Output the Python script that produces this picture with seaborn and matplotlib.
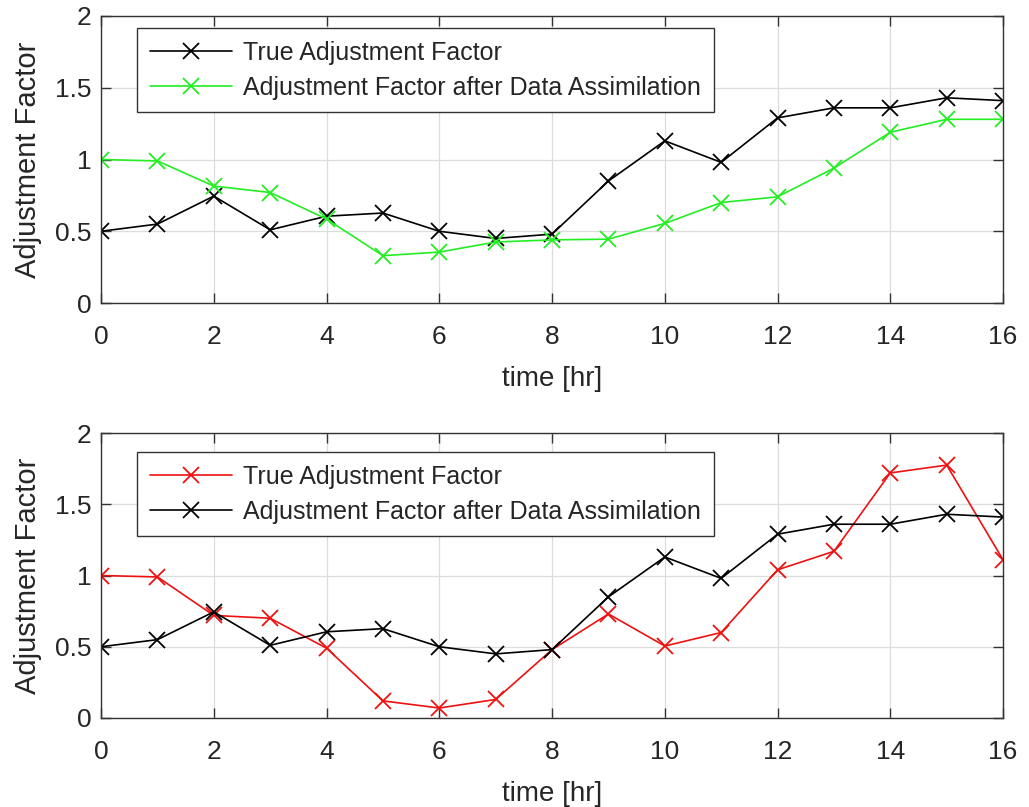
import matplotlib
matplotlib.use("Agg")
import matplotlib.pyplot as plt
import seaborn as sns
import numpy as np

hours = list(range(17))
true_factor = [0.50, 0.55, 0.745, 0.51, 0.605, 0.627, 0.50, 0.45, 0.48, 0.85,
               1.13, 0.98, 1.29, 1.36, 1.36, 1.43, 1.41]
assim_top = [1.00, 0.99, 0.815, 0.77, 0.585, 0.33, 0.355, 0.425, 0.44, 0.445,
             0.555, 0.70, 0.74, 0.94, 1.19, 1.28, 1.28]
true_bottom = [1.00, 0.99, 0.72, 0.70, 0.49, 0.12, 0.07, 0.13, 0.48, 0.73,
               0.505, 0.60, 1.04, 1.17, 1.72, 1.775, 1.11]
assim_bottom = true_factor

label_true = "True Adjustment Factor"
label_assim = "Adjustment Factor after Data Assimilation"
xticks = list(range(0, 17, 2))
yticks = [0, 0.5, 1, 1.5, 2]
yticklabels = ["0", "0.5", "1", "1.5", "2"]

sns.set_style("white")
plt.rcParams["font.family"] = ["Liberation Sans", "DejaVu Sans"]

fig = plt.figure(figsize=(10.29, 8.07), dpi=100)
ax1 = fig.add_axes([0.0982, 0.6245, 0.8766, 0.3557])
ax2 = fig.add_axes([0.0982, 0.1103, 0.8766, 0.3531])

GREEN = "#22ee22"
RED = "#ee1111"

def draw(ax, s1, c1, s2, c2, leg_top):
    sns.lineplot(x=hours, y=s1, ax=ax, color=c1, marker="x", markersize=12,
                 markeredgewidth=1.3, markeredgecolor=c1, linewidth=1.2,
                 label=label_true)
    sns.lineplot(x=hours, y=s2, ax=ax, color=c2, marker="x", markersize=12,
                 markeredgewidth=1.3, markeredgecolor=c2, linewidth=1.2,
                 label=label_assim)
    ax.set_xlim(0, 16)
    ax.set_ylim(0, 2)
    ax.set_xticks(xticks)
    ax.set_yticks(yticks)
    ax.set_yticklabels(yticklabels)
    ax.grid(True, color="#dddddd", linewidth=0.9)
    ax.set_axisbelow(True)
    for sp in ax.spines.values():
        sp.set_visible(True)
        sp.set_color("#333333")
        sp.set_linewidth(1.0)
    ax.tick_params(direction="in", length=7, width=1.0, colors="#333333",
                   labelcolor="#262626", labelsize=19, top=True, right=True,
                   bottom=True, left=True)
    ax.tick_params(axis="x", pad=16)
    ax.tick_params(axis="y", pad=7)
    ax.set_xlabel("time [hr]", fontsize=20, color="#262626", labelpad=12)
    ax.set_ylabel("Adjustment Factor", fontsize=21, color="#262626", labelpad=9)
    leg = ax.legend(loc="upper left", bbox_to_anchor=(0.04, leg_top),
                    borderaxespad=0, fontsize=18, frameon=True, fancybox=False,
                    handlelength=3.3, handletextpad=0.45, labelspacing=0.45,
                    borderpad=0.5)
    fr = leg.get_frame()
    fr.set_edgecolor("#333333")
    fr.set_linewidth(1.0)
    fr.set_alpha(1)
    for t in leg.get_texts():
        t.set_color("#262626")

draw(ax1, true_factor, "black", assim_top, GREEN, 0.958)
draw(ax2, true_bottom, RED, assim_bottom, "black", 0.933)

fig.savefig("out.png", dpi=100)
